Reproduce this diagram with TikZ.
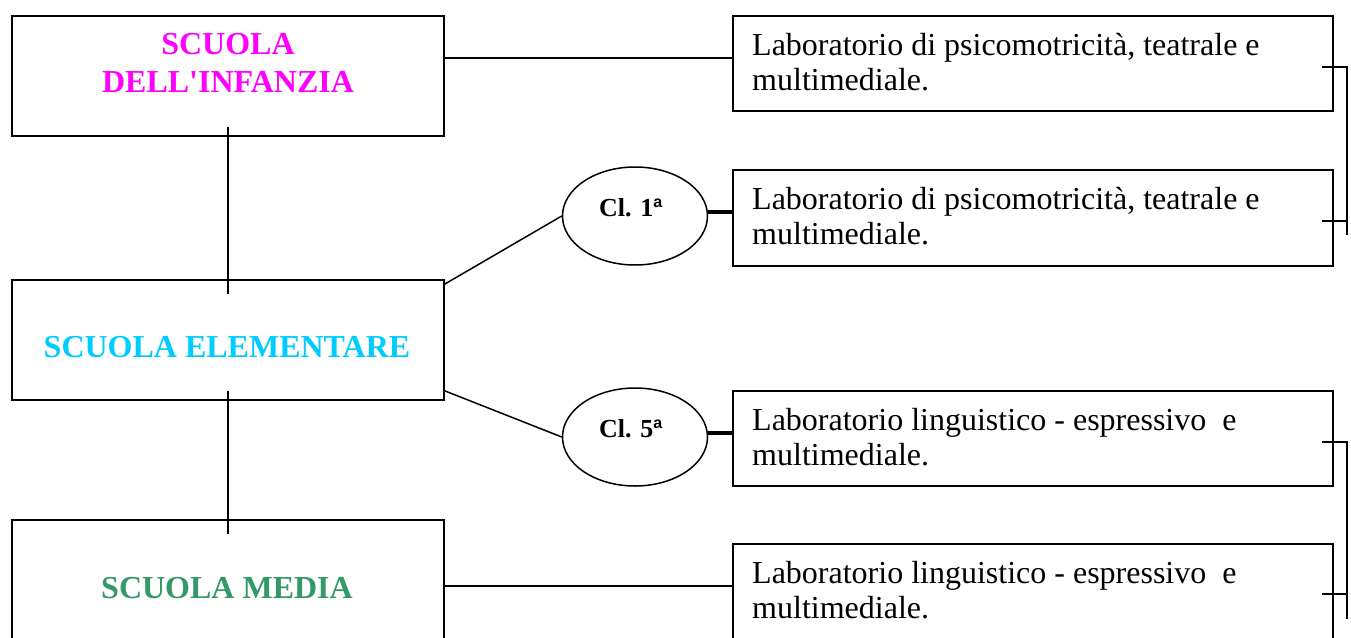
\documentclass[tikz,border=0pt]{standalone}
\usepackage{fontspec}
\setmainfont{Liberation Serif}
\setsansfont{Liberation Sans}
\usetikzlibrary{shapes.geometric,calc}
\definecolor{cmag}{HTML}{FF00FF}
\definecolor{ccyan}{HTML}{00CCFF}
\definecolor{cgreen}{HTML}{339966}
\newcommand{\ordA}{\raisebox{9pt}{\sffamily\bfseries\fontsize{16}{18}\selectfont a}}
\tikzset{
  box/.style={draw, line width=1.9pt, rectangle, inner sep=0pt, anchor=north west},
  oval/.style={draw, line width=1.5pt, ellipse, inner sep=0pt, minimum width=145pt, minimum height=98pt},
  conn/.style={line width=1.5pt},
  thick conn/.style={line width=4pt},
  lab/.style={inner sep=0pt, align=left, font=\fontsize{32}{35}\selectfont, anchor=north west},
  head/.style={inner sep=0pt, align=center, font=\bfseries\fontsize{32}{38}\selectfont},
  cl/.style={inner sep=0pt, anchor=base west, font=\bfseries\fontsize{26}{30}\selectfont}
}
\begin{document}
\begin{tikzpicture}[x=1pt,y=-1pt]
\useasboundingbox (0,0) rectangle (1351,637);
\clip (0,0) rectangle (1351,637);
\fill[white] (0,0) rectangle (1351,637);
% left boxes
\node[box, minimum width=432pt, minimum height=120pt] (A) at (11,15) {};
\node[box, minimum width=432pt, minimum height=120pt] (B) at (11,279) {};
\node[box, minimum width=432pt, minimum height=140pt] (C) at (11,519) {};
\node[head, text=cmag, anchor=north] (At) at (228,33.5) {SCUOLA\\DELL\textquotesingle INFANZIA};
\node[head, text=ccyan, anchor=base] (Bt) at (227,357) {SCUOLA ELEMENTARE};
\node[head, text=cgreen, anchor=base] (Ct) at (227,598) {SCUOLA MEDIA};
% right boxes
\node[box, minimum width=600pt, minimum height=95pt] (R1) at (732,15) {};
\node[box, minimum width=600pt, minimum height=96pt] (R2) at (732,169) {};
\node[box, minimum width=600pt, minimum height=95pt] (R3) at (732,390) {};
\node[box, minimum width=600pt, minimum height=110pt] (R4) at (732,543) {};
\node[lab] (R1t) at (752,33) {Laboratorio di psicomotricità, teatrale e\\multimediale.};
\node[lab] (R2t) at (752,187) {Laboratorio di psicomotricità, teatrale e\\multimediale.};
\node[lab] (R3t) at (752,408) {Laboratorio linguistico - espressivo~ e\\multimediale.};
\node[lab] (R4t) at (752,561) {Laboratorio linguistico - espressivo~ e\\multimediale.};
% ellipses
\node[oval] (E1) at (635,216) {};
\node[oval] (E2) at (635,437) {};
\node[cl] (E1t) at (599,216) {Cl. 1\ordA};
\node[cl] (E2t) at (599,437) {Cl. 5\ordA};
% connectors
\draw[conn] ([yshift=10pt]A.south) -- ([yshift=-15pt]B.north);
\draw[conn] ([yshift=10pt]B.south) -- ([yshift=-15pt]C.north);
\draw[conn] (A.east |- 0,58) -- (R1.west |- 0,58);
\draw[conn] (C.east |- 0,586) -- (R4.west |- 0,586);
\draw[conn] ([yshift=-5pt]B.north east) -- (E1.west);
\draw[conn] ([yshift=10pt]B.south east) -- (E2.west);
\draw[thick conn] ([yshift=4pt]E1.east) -- ([yshift=4pt]E1.east -| R2.west);
\draw[thick conn] ([yshift=4pt]E2.east) -- ([yshift=4pt]E2.east -| R3.west);
% right brackets
\coordinate (k1a) at (1322,67);
\coordinate (k1b) at (1347,67);
\coordinate (k1c) at (1347,235);
\coordinate (k1d) at (1322,221);
\coordinate (k1e) at (1347,221);
\draw[conn] (k1a) -- (k1b) -- (k1c);
\draw[conn] (k1d) -- (k1e);
\coordinate (k2a) at (1322,442);
\coordinate (k2b) at (1347,442);
\coordinate (k2c) at (1347,619);
\coordinate (k2d) at (1322,594);
\coordinate (k2e) at (1347,594);
\draw[conn] (k2a) -- (k2b) -- (k2c);
\draw[conn] (k2d) -- (k2e);
\end{tikzpicture}
\end{document}
